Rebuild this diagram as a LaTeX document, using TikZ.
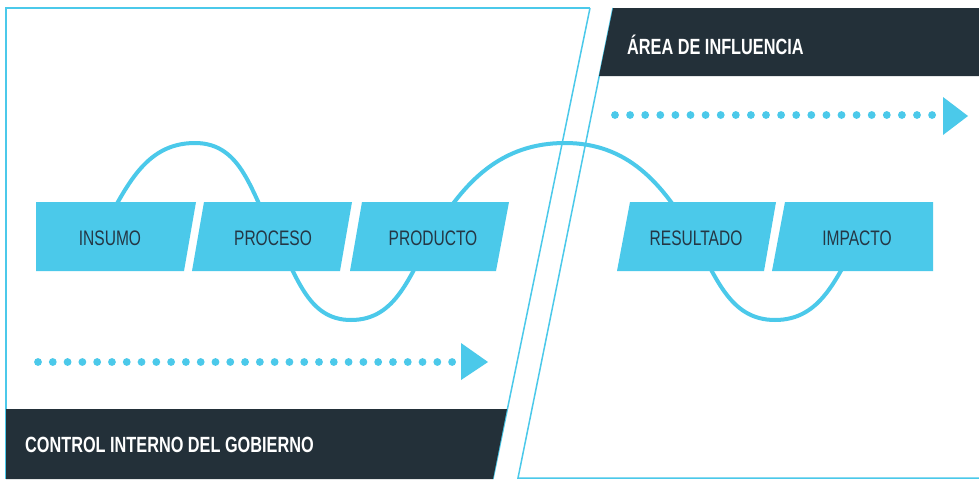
\documentclass[tikz,border=0pt]{standalone}
\usepackage{fontspec}
\setmainfont{Liberation Sans}
\newfontfamily\condfont{Liberation Sans}[FakeStretch=0.74]
\definecolor{celeste}{HTML}{4BC9EA}
\definecolor{pizarra}{HTML}{233039}
\definecolor{letra}{HTML}{243745}
\tikzset{
  marco/.style={draw=celeste,line width=1.5pt},
  caja/.style={fill=celeste},
  onda/.style={draw=celeste,line width=4pt},
  punto/.style={fill=celeste},
  etiqueta/.style={anchor=base,inner sep=0pt,text=letra,font=\condfont\fontsize{21}{24}\selectfont},
  titulo/.style={anchor=base west,inner sep=0pt,text=white,font=\condfont\bfseries\fontsize{22}{26}\selectfont},
}
\begin{document}
\begin{tikzpicture}[x=1pt,y=-1pt]
\useasboundingbox (0,0) rectangle (979,479);
\fill[white] (0,0) rectangle (979,479);
% marcos
\draw[marco] (590,8) -- (6,8) -- (6,479);
\draw[marco] (590,8) -- (493,479);
\draw[marco] (613,8) -- (518,478) -- (979,478);
\fill[pizarra] (6,409) -- (507,409) -- (493,479) -- (6,479) -- cycle;
\fill[pizarra] (613,8) -- (979,8) -- (979,76) -- (599,76) -- cycle;
\node[titulo] (area) at (627,54) {ÁREA DE INFLUENCIA};
\node[titulo] (control) at (25,452) {CONTROL INTERNO DEL GOBIERNO};
% flechas de puntos
\foreach \i in {0,...,28}
  \fill[punto] (38+\i*14.79,362) circle (3.9);
\fill[punto] (461,343) -- (488,362) -- (461,380) -- cycle;
\foreach \i in {0,...,21}
  \fill[punto] (615+\i*15.1,115) circle (3.9);
\fill[punto] (943,97) -- (968,116) -- (943,135) -- cycle;
% onda
\draw[onda] (99,236) to[out=60,in=180] (195,143) to[out=0,in=120] (275,236)
  to[out=-60,in=180] (351,320) to[out=0,in=-120] (432,236)
  to[out=60,in=180] (565,143) to[out=0,in=120] (693,236)
  to[out=-60,in=180] (775,320) to[out=0,in=-120] (860,236);
% cajas
\fill[caja] (36,202) -- (196,202) -- (184,271) -- (36,271) -- cycle;
\fill[caja] (204,202) -- (352,202) -- (340,271) -- (192,271) -- cycle;
\fill[caja] (362,202) -- (509,202) -- (496,271) -- (350,271) -- cycle;
\fill[caja] (630,202) -- (776,202) -- (764,271) -- (617,271) -- cycle;
\fill[caja] (785,202) -- (933,202) -- (933,271) -- (772,271) -- cycle;
\node[etiqueta] (insumo) at (110,245) {INSUMO};
\node[etiqueta] (proceso) at (273,245) {PROCESO};
\node[etiqueta] (producto) at (433,245) {PRODUCTO};
\node[etiqueta] (resultado) at (696,245) {RESULTADO};
\node[etiqueta] (impacto) at (857,245) {IMPACTO};
\end{tikzpicture}
\end{document}
